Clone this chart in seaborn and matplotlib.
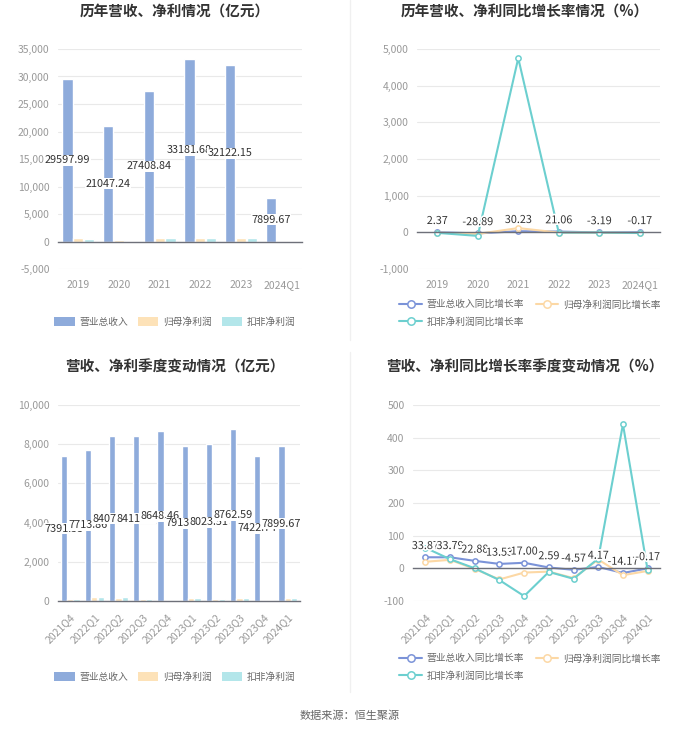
import numpy as np
import pandas as pd
import matplotlib
matplotlib.use('Agg')
import matplotlib.pyplot as plt
import seaborn as sns
from matplotlib.ticker import FuncFormatter, MultipleLocator
from matplotlib.lines import Line2D
import matplotlib.patheffects as pe

# ---------------- data ----------------
years = ['2019', '2020', '2021', '2022', '2023', '2024Q1']
rev_y = [29597.99, 21047.24, 27408.84, 33181.68, 32122.15, 7899.67]
np_y = [575.91, 329.24, 712.08, 663.02, 604.63, 145.05]
kf_y = [512.0, 14.0, 680.0, 630.0, 590.0, 140.0]
rev_y_g = [2.37, -28.89, 30.23, 21.06, -3.19, -0.17]
np_y_g = [-8.48, -42.83, 116.27, -6.89, -8.81, -20.11]
kf_y_g = [-15.0, -97.0, 4750.0, -7.0, -6.0, -18.0]

quarters = ['2021Q4', '2022Q1', '2022Q2', '2022Q3', '2022Q4',
            '2023Q1', '2023Q2', '2023Q3', '2023Q4', '2024Q1']
rev_q = [7391.53, 7713.86, 8407.27, 8411.72, 8648.46,
         7913.22, 8023.51, 8762.59, 7422.74, 7899.67]
np_q = [95, 188, 178, 98, 60, 150, 112, 138, 45, 145]
kf_q = [110, 200, 182, 95, 12, 170, 120, 135, 70, 160]
rev_q_g = [33.87, 33.79, 22.88, 13.53, 17.00, 2.59, -4.57, 4.17, -14.17, -0.17]
np_q_g = [20, 26, -2, -34, -13, -10, -30, 27, -21, -8]
kf_q_g = [63, 28, 0, -36, -85, -11, -32, 30, 441, -6]

bar_series = ['营业总收入', '归母净利润', '扣非净利润']
line_series = ['营业总收入同比增长率', '归母净利润同比增长率', '扣非净利润同比增长率']

titles = ['历年营收、净利情况（亿元）', '历年营收、净利同比增长率情况（%）',
          '营收、净利季度变动情况（亿元）', '营收、净利同比增长率季度变动情况（%）']
source = '数据来源：恒生聚源'

# ---------------- style ----------------
sns.set_theme(style='white')
FONT = ['Noto Sans CJK SC', 'DejaVu Sans']
plt.rcParams['font.family'] = FONT
plt.rcParams['axes.unicode_minus'] = False

bar_colors = ['#8eabdb', '#fde2b8', '#b3e6ea']
line_colors = ['#7b93d8', '#fcd8a5', '#6ccfcf']
TICK_C = '#999999'
GRID_C = '#e9e9e9'
AXIS_C = '#6e7079'

W, H = 700, 734
fig = plt.figure(figsize=(W / 100, H / 100), dpi=100)


def rect(l, r, t, b):
    return [l / W, 1 - b / H, (r - l) / W, (b - t) / H]


comma = FuncFormatter(lambda v, p: f'{v:,.0f}')


def style_axes(ax, cats, ylim, step, fmt, zero_px_to_bottom, rotate=False):
    ax.set_xlim(-0.5, len(cats) - 0.5)
    ax.set_ylim(*ylim)
    ax.yaxis.set_major_locator(MultipleLocator(step))
    ax.yaxis.set_major_formatter(fmt)
    ax.grid(axis='y', color=GRID_C, linewidth=0.8)
    ax.grid(axis='x', visible=False)
    ax.set_axisbelow(True)
    for s in ['top', 'right', 'left']:
        ax.spines[s].set_visible(False)
    ax.spines['bottom'].set_position(('data', 0))
    ax.spines['bottom'].set_color(AXIS_C)
    ax.spines['bottom'].set_linewidth(1.0)
    ax.set_xlabel('')
    ax.set_ylabel('')
    ax.tick_params(axis='y', length=0, labelsize=7.5, labelcolor=TICK_C, pad=6)
    pad_pt = (zero_px_to_bottom + 5) * 0.72
    ax.tick_params(axis='x', length=4, width=0.8, color=AXIS_C, direction='out',
                   labelsize=7.5, labelcolor=TICK_C, pad=pad_pt)
    ax.set_xticks(range(len(cats)))
    if rotate:
        ax.set_xticklabels(cats, rotation=45, ha='right', rotation_mode='anchor')
    else:
        ax.set_xticklabels(cats)


def bar_panel(ax, cats, rev, npf, kf, ylim, step, zero_gap, rotate, legend_y):
    df = pd.DataFrame({
        'cat': cats * 3,
        'series': sum([[s] * len(cats) for s in bar_series], []),
        'value': list(rev) + list(npf) + list(kf),
    })
    sns.barplot(data=df, x='cat', y='value', hue='series', hue_order=bar_series,
                palette=bar_colors, width=0.8, gap=0.05, ax=ax, saturation=1,
                legend=True)
    handles, labels = ax.get_legend_handles_labels()
    ax.get_legend().remove()
    style_axes(ax, cats, ylim, step, comma, zero_gap, rotate)
    ax.bar_label(ax.containers[0], labels=[f'{v:.2f}' for v in rev],
                 label_type='center', fontsize=7.8, color='#333333',
                 bbox=dict(facecolor='white', edgecolor='none', pad=0.3))
    leg = ax.legend(handles, labels, loc='center', ncol=3, frameon=False,
                    bbox_to_anchor=(175 / W, 1 - legend_y / H),
                    bbox_transform=fig.transFigure, fontsize=7,
                    handlelength=2.1, handleheight=1.0, handletextpad=0.5,
                    columnspacing=1.0, labelcolor='#666666')
    for p in leg.get_patches():
        p.set_edgecolor('none')


def line_panel(ax, cats, rev_g, np_g, kf_g, ylim, step, fmt, zero_gap, rotate,
               legend_cx, legend_cy):
    for vals, name, col in zip([rev_g, np_g, kf_g], line_series, line_colors):
        d = pd.DataFrame({'cat': cats, 'v': vals})
        sns.lineplot(data=d, x='cat', y='v', sort=False, ax=ax, color=col,
                     linewidth=1.5, marker='o', markersize=3.8,
                     markerfacecolor='white', markeredgecolor=col,
                     markeredgewidth=1.1, label=name)
    handles, labels = ax.get_legend_handles_labels()
    ax.get_legend().remove()
    style_axes(ax, cats, ylim, step, fmt, zero_gap, rotate)
    for i, v in enumerate(rev_g):
        ax.annotate(f'{v:.2f}', (i, v), xytext=(0, 4.5), textcoords='offset points',
                    ha='center', va='bottom', fontsize=7.8, color='#333333',
                    path_effects=[pe.withStroke(linewidth=2.5, foreground='white')],
                    zorder=10)
    order = [0, 2, 1]
    leg = ax.legend([handles[k] for k in order], [labels[k] for k in order],
                    loc='center', ncol=2, frameon=False,
                    bbox_to_anchor=(legend_cx / W, 1 - legend_cy / H),
                    bbox_transform=fig.transFigure, fontsize=7,
                    handlelength=2.3, handletextpad=0.5, columnspacing=1.2,
                    labelspacing=0.75, labelcolor='#666666', markerscale=1.4)


# ---------------- panels ----------------
ax1 = fig.add_axes(rect(58, 302, 49, 269))
bar_panel(ax1, years, rev_y, np_y, kf_y, (-5000, 35000), 5000, 28, False, 322)

ax2 = fig.add_axes(rect(417, 660, 49, 269))
line_panel(ax2, years, rev_y_g, np_y_g, kf_y_g, (-1000, 5000), 1000, comma, 37,
           False, 530, 313)

ax3 = fig.add_axes(rect(58, 300, 405, 601))
bar_panel(ax3, quarters, rev_q, np_q, kf_q, (0, 10000), 2000, 0, True, 677)

ax4 = fig.add_axes(rect(413, 660, 405, 601))
line_panel(ax4, quarters, rev_q_g, np_q_g, kf_q_g, (-100, 500), 100,
           FuncFormatter(lambda v, p: f'{v:.0f}'), 33, True, 530, 667)

# ---------------- titles & decorations ----------------
title_pos = [(175, 12), (525, 12), (175, 367), (525, 367)]
for t, (x, y) in zip(titles, title_pos):
    fig.text(x / W, 1 - y / H, t, ha='center', va='center', fontsize=10.5,
             fontweight='bold', color='#333333')

fig.text(350 / W, 1 - 716 / H, source, ha='center', va='center', fontsize=8,
         color='#666666')

for (y0, y1) in [(0, 340), (352, 692)]:
    fig.add_artist(Line2D([350 / W, 350 / W], [1 - y0 / H, 1 - y1 / H],
                          transform=fig.transFigure, color='#f0f0f0', linewidth=1))

fig.savefig('out.png', dpi=100, facecolor='white')
